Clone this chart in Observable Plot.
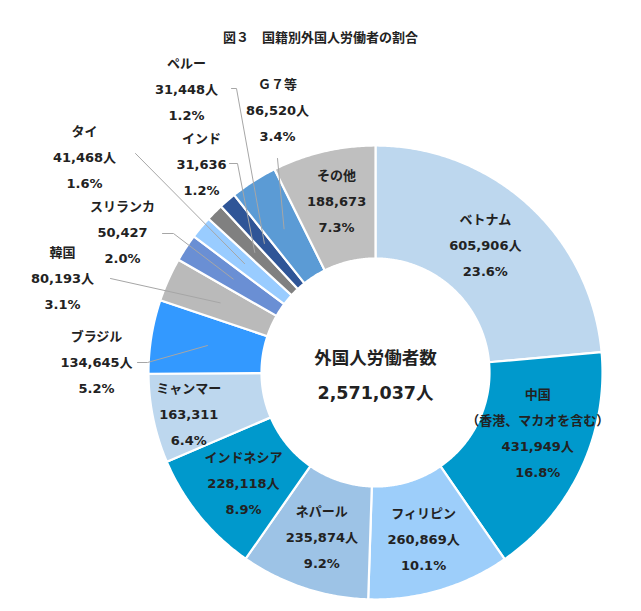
<!DOCTYPE html>
<html lang="ja">
<head>
<meta charset="utf-8">
<script src="https://cdn.jsdelivr.net/npm/d3@7"></script>
<script src="https://cdn.jsdelivr.net/npm/@observablehq/plot@0.6"></script>
<style>
  html, body { margin: 0; padding: 0; background: #fff; }
  body { width: 641px; height: 611px; overflow: hidden; font-family: "DejaVu Sans", "Noto Sans CJK JP", sans-serif; }
  #title { height: 48px; display: flex; align-items: flex-end; justify-content: center; font-size: 13px; font-weight: bold; color: #222; line-height: 1; box-sizing: border-box; padding-bottom: 4px; }
  #chart svg { display: block; }
</style>
</head>
<body>
<div id="title">図３　国籍別外国人労働者の割合</div>
<div id="chart"></div>
<script>
// ---- data ----
const categories = ["ベトナム", "中国", "フィリピン", "ネパール", "インドネシア", "ミャンマー", "ブラジル", "韓国", "スリランカ", "タイ", "インド", "ペルー", "Ｇ７等", "その他"];
const workers = [605906, 431949, 260869, 235874, 228118, 163311, 134645, 80193, 50427, 41468, 31636, 31448, 86520, 188673];
const notes = {"中国": "（香港、マカオを含む）"};
const noUnit = ["ミャンマー", "スリランカ", "インド", "その他"];
const outside = ["ブラジル", "韓国", "スリランカ", "タイ", "インド", "ペルー", "Ｇ７等"];
const centerTitle = "外国人労働者数";

// ---- style / layout ----
const colors = ["#BDD7EE", "#0099CC", "#9DCEFA", "#9DC3E6", "#0099CC", "#BDD7EE", "#3399FF", "#BABABA", "#6A8FD4", "#99CCFF", "#808080", "#2F5597", "#5B9BD5", "#BFBFBF"];
const W = 641, H = 563;
const CX = 375, CY = 324, R = 227, RIN = 114 / 227;
const MIDR = 0.75;
// outside label placement (page pixels): label centre, leader start points
const outsideLayout = {
  "ペルー":   {x: 186, y: 85,  lead: [[231, 88], [236, 88]]},
  "Ｇ７等":   {x: 277, y: 106, lead: [[277, 158]]},
  "インド":   {x: 201, y: 160, lead: [[229, 163], [237, 163]]},
  "タイ":     {x: 84,  y: 153, lead: [[135, 153]]},
  "スリランカ": {x: 122, y: 228, lead: [[162, 233], [173, 233]]},
  "韓国":     {x: 62,  y: 274, lead: [[110, 278]]},
  "ブラジル":  {x: 96,  y: 358, lead: [[137, 362], [147, 362]]}
};
const insideShift = {"ミャンマー": [-20, 4], "中国": [8, -15], "ベトナム": [-5, -5], "その他": [0, -9]};
const centerShift = -2;
const TOP = 48; // svg top offset on page
const px = (x) => (x - CX) / R;
const py = (y) => (CY - (y - TOP)) / R;

// ---- derived ----
const total = d3.sum(workers);
const fmt = d3.format(",");
let cum = 0;
const slices = categories.map((name, i) => {
  const a0 = cum / total * 2 * Math.PI;
  cum += workers[i];
  const a1 = cum / total * 2 * Math.PI;
  return {name, value: workers[i], a0, a1, mid: (a0 + a1) / 2, pct: (workers[i] / total * 100).toFixed(1) + "%"};
});
const ringPts = [];
for (const s of slices) {
  const n = Math.max(2, Math.ceil((s.a1 - s.a0) / (Math.PI / 360)));
  for (let k = 0; k <= n; k++) {
    const a = s.a0 + (s.a1 - s.a0) * k / n;
    ringPts.push({name: s.name, x: Math.sin(a), y: Math.cos(a)});
  }
  for (let k = n; k >= 0; k--) {
    const a = s.a0 + (s.a1 - s.a0) * k / n;
    ringPts.push({name: s.name, x: RIN * Math.sin(a), y: RIN * Math.cos(a)});
  }
}
const labelText = (s) => {
  const lines = [s.name];
  if (notes[s.name]) lines.push(notes[s.name]);
  lines.push(fmt(s.value) + (noUnit.includes(s.name) ? "" : "人"));
  lines.push(s.pct);
  return lines.join("\n");
};
const inside = slices.filter(s => !outside.includes(s.name)).map(s => {
  const sh = insideShift[s.name] || [0, 0];
  return {text: labelText(s), x: MIDR * Math.sin(s.mid) + sh[0] / R, y: MIDR * Math.cos(s.mid) - sh[1] / R};
});
const outs = slices.filter(s => outside.includes(s.name)).map(s => {
  const L = outsideLayout[s.name];
  return {text: labelText(s), x: px(L.x), y: py(L.y)};
});
const leaders = [];
for (const s of slices.filter(s => outside.includes(s.name))) {
  const L = outsideLayout[s.name];
  for (const p of L.lead) leaders.push({name: s.name, x: px(p[0]), y: py(p[1])});
  leaders.push({name: s.name, x: MIDR * Math.sin(s.mid), y: MIDR * Math.cos(s.mid)});
}

const font = "DejaVu Sans, Noto Sans CJK JP, sans-serif";
const chart = Plot.plot({
  width: W,
  height: H,
  margin: 0,
  x: {domain: [-1, 1], range: [CX - R, CX + R], axis: null},
  y: {domain: [-1, 1], range: [CY + R, CY - R], axis: null},
  color: {domain: categories, range: colors},
  style: {fontFamily: font, background: "white"},
  marks: [
    Plot.line(ringPts, {x: "x", y: "y", z: "name", fill: "name", stroke: "white", strokeWidth: 2.2, curve: "linear-closed"}),
    Plot.line(leaders, {x: "x", y: "y", z: "name", stroke: "#A6A6A6", strokeWidth: 1}),
    Plot.text(inside, {x: "x", y: "y", text: "text", fontSize: 13, fontWeight: "bold", fill: "#222", lineHeight: 2, lineAnchor: "middle"}),
    Plot.text(outs, {x: "x", y: "y", text: "text", fontSize: 13, fontWeight: "bold", fill: "#222", lineHeight: 2, lineAnchor: "middle"}),
    Plot.text([{x: 0, y: -centerShift / R, text: centerTitle + "\n" + fmt(total) + "人"}], {x: "x", y: "y", text: "text", fontSize: 17.5, fontWeight: "bold", fill: "#222", lineHeight: 2, lineAnchor: "middle"})
  ]
});
document.getElementById("chart").appendChild(chart);
</script>
</body>
</html>
